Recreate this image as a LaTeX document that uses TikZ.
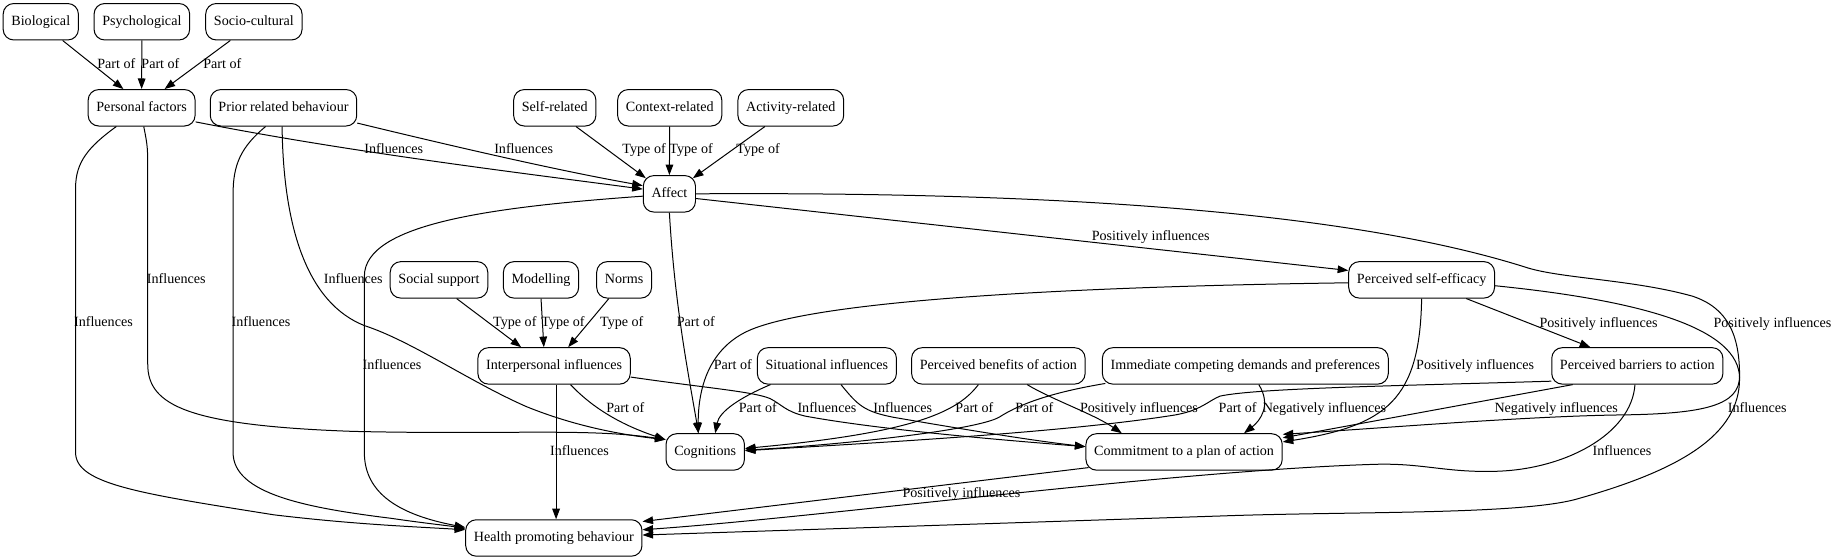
\documentclass[tikz,border=0pt]{standalone}
\usepackage{fontspec}
\setmainfont{Liberation Serif}
\usetikzlibrary{arrows.meta}
\begin{document}
\begin{tikzpicture}[x=1pt,y=-1pt,
  box/.style={draw=black, line width=0.85pt, rounded corners=9pt, minimum height=31pt, inner xsep=7pt, inner ysep=2pt, text height=8.5pt, text depth=2.5pt, font=\fontsize{12}{14}\selectfont},
  lbl/.style={inner sep=0pt, text height=8.5pt, text depth=2.5pt, font=\fontsize{12}{14}\selectfont},
  edg/.style={draw=black, line width=0.85pt, -{Triangle[length=9pt,width=6.5pt]}}]
\useasboundingbox (0,0) rectangle (1568,476.4);
% nodes
\node[box] (bio) at (34.7,18.5) {Biological};
\node[box] (psy) at (120.7,18.5) {Psychological};
\node[box] (soc) at (216,18.5) {Socio-cultural};
\node[box] (pf) at (120.5,91.7) {Personal factors};
\node[box] (prb) at (241.2,91.7) {Prior related behaviour};
\node[box] (self) at (472,91.7) {Self-related};
\node[box] (ctx) at (569.8,91.7) {Context-related};
\node[box] (act) at (672.8,91.7) {Activity-related};
\node[box] (aff) at (569.5,164.9) {Affect};
\node[box] (ss) at (373.5,238.1) {Social support};
\node[box] (mod) at (460.3,238.1) {Modelling};
\node[box] (nrm) at (531,238.1) {Norms};
\node[box] (pse) at (1209.5,238.1) {Perceived self-efficacy};
\node[box] (ii) at (471.4,311.3) {Interpersonal influences};
\node[box] (sit) at (703.5,311.3) {Situational influences};
\node[box] (pb) at (849.4,311.3) {Perceived benefits of action};
\node[box] (icd) at (1059.5,311.3) {Immediate competing demands and preferences};
\node[box] (pba) at (1393,311.3) {Perceived barriers to action};
\node[box] (cog) at (600,384.5) {Cognitions};
\node[box] (com) at (1007.4,384.5) {Commitment to a plan of action};
\node[box] (hpb) at (471.2,457.7) {Health promoting behaviour};
% edges: top
\draw[edg] ([xshift=18.6pt]bio.south) -- ([xshift=-15.5pt]pf.north);
\draw[edg] (psy.south) -- (pf.north);
\draw[edg] ([xshift=-20pt]soc.south) -- ([xshift=19.5pt]pf.north);
\draw[edg] ([yshift=-12pt]pf.east) .. controls (300,130) and (450,148) .. ([yshift=4pt]aff.west);
\draw[edg] ([yshift=-13pt]prb.east) .. controls (400,128) and (480,146) .. ([yshift=7pt]aff.west);
\draw[edg] ([xshift=18pt]self.south) -- ([xshift=2.6pt,yshift=-2.6pt]aff.north west);
\draw[edg] (ctx.south) -- (aff.north);
\draw[edg] ([xshift=-22pt]act.south) -- ([xshift=-2.6pt,yshift=-2.6pt]aff.north east);
% personal factors / prior
\draw[edg] ([xshift=-21.5pt]pf.south) .. controls (75,125) and (64.3,138) .. (64.3,160) -- (64.3,385) .. controls (64.3,412) and (120,420) .. (233,438) .. controls (300,446) and (350,448) .. ([yshift=7pt]hpb.west);
\draw[edg] ([xshift=1.8pt]pf.south) .. controls (125.7,125) .. (125.7,150) -- (125.7,310) .. controls (125.7,345) and (160,362) .. (300,367) .. controls (430,370) and (500,364) .. ([yshift=10.5pt]cog.west);
\draw[edg] ([xshift=-15.2pt]prb.south) .. controls (205,125) and (198.3,140) .. (198.3,165) -- (198.3,385) .. controls (198.3,420) and (260,432) .. (333,441) .. controls (360,445) and (380,447) .. ([yshift=8pt]hpb.west);
\draw[edg] ([xshift=-1.2pt]prb.south) .. controls (241,195) and (262,258) .. (310,277) .. controls (350,290) and (400,325) .. (448,346) .. controls (490,363) and (530,370) .. ([yshift=10.5pt]cog.west);
% affect
\draw[edg] ([yshift=-2pt]aff.west) .. controls (420,176) and (310,190) .. (310,235) -- (310,385) .. controls (310,420) and (340,438) .. ([yshift=9pt]hpb.west);
\draw[edg] (aff.south) .. controls (574,260) and (586,320) .. ([xshift=-5.7pt]cog.north);
\draw[edg] ([yshift=-4pt]aff.east) -- ([yshift=8pt]pse.west);
\draw[edg] (aff.east) .. controls (900,163) and (1150,180) .. (1300,228) .. controls (1330,237) and (1390,238) .. (1440,252) .. controls (1470,262) and (1480,285) .. (1480,320) .. controls (1480,345) and (1450,352) .. (1380,353) .. controls (1300,354) and (1180,364) .. ([yshift=15pt]com.east);
% self-efficacy
\draw[edg] ([yshift=-2.5pt]pse.west) .. controls (900,244) and (700,256) .. (640,280) .. controls (610,292) and (594,320) .. ([xshift=-6pt]cog.north);
\draw[edg] ([xshift=38pt]pse.south) -- ([xshift=-40pt]pba.north);
\draw[edg] (pse.south) .. controls (1208,340) and (1180,362) .. ([yshift=8.5pt]com.east);
\draw[edg] ([yshift=-5pt]pse.east) .. controls (1400,256) and (1480,280) .. (1480,322) .. controls (1480,370) and (1430,400) .. (1340,425) .. controls (1290,438) and (1150,435) .. (1038,439) -- ([yshift=2.5pt]hpb.east);
% barriers
\draw[edg] ([yshift=-13pt]pba.west) .. controls (1200,328) and (1070,330) .. (1038,337) .. controls (1028,341) and (1022,349) .. (1000,353) .. controls (900,369) and (720,378) .. ([yshift=1pt]cog.east);
\draw[edg] ([xshift=-55pt]pba.south) -- ([yshift=12pt]com.east);
\draw[edg] ([xshift=-2pt]pba.south) .. controls (1388,370) and (1330,400) .. (1271,401) .. controls (1230,402) and (1210,394) .. (1171,395) .. controls (1000,400) and (700,440) .. ([yshift=7pt]hpb.east);
% commitment
\draw[edg] ([xshift=2.6pt,yshift=2.6pt]com.south west) -- ([yshift=14pt]hpb.east);
% interpersonal
\draw[edg] ([xshift=15pt]ss.south) -- ([xshift=-28pt]ii.north);
\draw[edg] (mod.south) -- ([xshift=-8.7pt]ii.north);
\draw[edg] ([xshift=-13pt]nrm.south) -- ([xshift=12pt]ii.north);
\draw[edg] ([xshift=14pt]ii.south) .. controls (505,348) and (530,362) .. ([yshift=10.5pt]cog.west);
\draw[edg] ([xshift=1.7pt]ii.south) -- ([xshift=1.9pt]hpb.north);
\draw[edg] ([yshift=-9.5pt]ii.east) .. controls (600,330) and (640,333) .. (655,339) .. controls (665,344) and (668,350) .. (685,354) .. controls (750,366) and (860,375) .. ([yshift=4.5pt]com.west);
% situational, benefits, immediate
\draw[edg] ([xshift=-48pt]sit.south) .. controls (630,338) and (612,350) .. ([xshift=8.5pt]cog.north);
\draw[edg] ([xshift=12pt]sit.south) .. controls (730,345) and (735,350) .. (760,355) .. controls (830,367) and (880,375) .. ([yshift=4.5pt]com.west);
\draw[edg] ([xshift=-17pt]pb.south) .. controls (815,350) and (780,368) .. ([yshift=3pt]cog.east);
\draw[edg] ([xshift=24.5pt]pb.south) .. controls (895,340) and (930,352) .. ([xshift=-53pt]com.north);
\draw[edg] ([xshift=3pt,yshift=1pt]icd.south west) .. controls (900,333) and (870,342) .. (850,355) .. controls (830,366) and (720,378) .. ([yshift=1.5pt]cog.east);
\draw[edg] ([xshift=11.5pt]icd.south) .. controls (1082,345) and (1072,358) .. ([xshift=51pt]com.north);
% labels
\node[lbl] (l01) at (99,55) {Part of};
\node[lbl] (l02) at (136.5,55) {Part of};
\node[lbl] (l03) at (189.2,55) {Part of};
\node[lbl] (l04) at (335,127.6) {Influences};
\node[lbl] (l05) at (445.5,127.6) {Influences};
\node[lbl] (l06) at (548,128) {Type of};
\node[lbl] (l07) at (588,128) {Type of};
\node[lbl] (l08) at (645,128) {Type of};
\node[lbl] (l09) at (150,238) {Influences};
\node[lbl] (l10) at (300.5,238) {Influences};
\node[lbl] (l11) at (88,275) {Influences};
\node[lbl] (l12) at (222,275) {Influences};
\node[lbl] (l13) at (333.5,311.5) {Influences};
\node[lbl] (l14) at (438,275) {Type of};
\node[lbl] (l15) at (479,275) {Type of};
\node[lbl] (l16) at (529,275) {Type of};
\node[lbl] (l17) at (592,275) {Part of};
\node[lbl] (l18) at (979,202) {Positively influences};
\node[lbl] (l19) at (1508,275.6) {Positively influences};
\node[lbl] (l20) at (1360,275.6) {Positively influences};
\node[lbl] (l21) at (623.5,311.4) {Part of};
\node[lbl] (l22) at (1255,311.3) {Positively influences};
\node[lbl] (l23) at (1495,348) {Influences};
\node[lbl] (l24) at (532,348.3) {Part of};
\node[lbl] (l25) at (493,384.5) {Influences};
\node[lbl] (l26) at (703.5,348.3) {Influences};
\node[lbl] (l27) at (644.8,348.3) {Part of};
\node[lbl] (l28) at (768,348.3) {Influences};
\node[lbl] (l29) at (829,348.3) {Part of};
\node[lbl] (l30) at (880,348.3) {Part of};
\node[lbl] (l31) at (969,348.3) {Positively influences};
\node[lbl] (l32) at (1053,348.3) {Part of};
\node[lbl] (l33) at (1126.8,348.3) {Negatively influences};
\node[lbl] (l34) at (1324,348.3) {Negatively influences};
\node[lbl] (l35) at (1380,384.8) {Influences};
\node[lbl] (l36) at (818,420.2) {Positively influences};
\end{tikzpicture}
\end{document}
